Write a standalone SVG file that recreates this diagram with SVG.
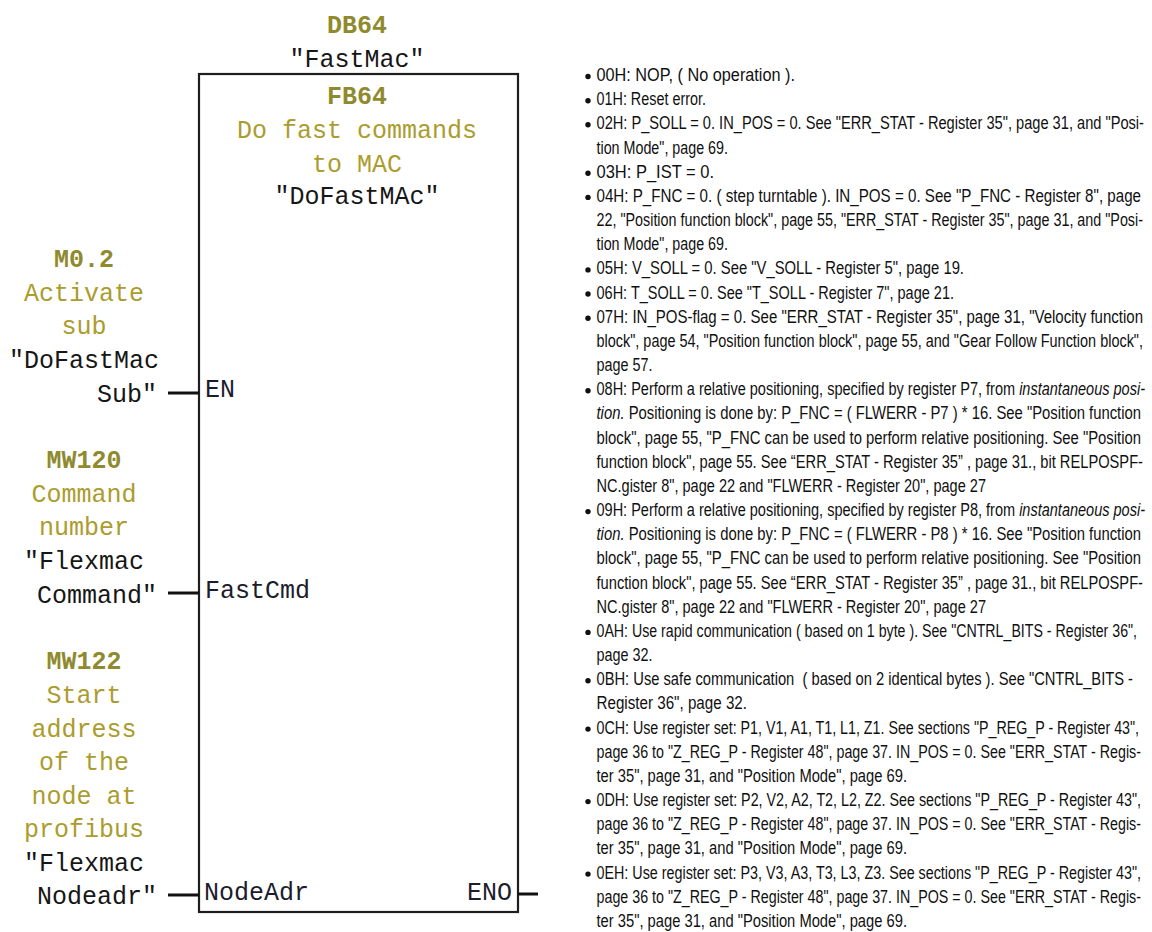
<svg xmlns="http://www.w3.org/2000/svg" width="1152" height="932" viewBox="0 0 1152 932">
  <style>
    .mono { font-family: "Liberation Mono", "Courier New", monospace; font-size: 25px; }
    .addr { font-weight: bold; fill: #8f8a2e; }
    .cmt { fill: #ab9c2e; }
    .sym { fill: #161616; }
    .pin { fill: #1c1c2c; }
    .mid { text-anchor: middle; }
    .end { text-anchor: end; }
    .box { fill: #ffffff; stroke: #1e1e1e; stroke-width: 2.2; }
    .wire { stroke: #111111; stroke-width: 3; fill: none; }
    .t { font-family: "Liberation Sans Narrow", "Liberation Sans", Arial, sans-serif; font-size: 17.5px; fill: #101010; }
    .bul { fill: #101010; }
  </style>

  <!-- instance data block and function block -->
  <g id="fb64">
    <text class="mono addr mid" x="357" y="33">DB64</text>
    <text class="mono sym mid" x="357" y="67">"FastMac"</text>
    <rect class="box" x="199" y="74" width="319" height="838"/>
    <text class="mono addr mid" x="357" y="104">FB64</text>
    <text class="mono cmt mid" x="357" y="138">Do fast commands</text>
    <text class="mono cmt mid" x="357" y="172">to MAC</text>
    <text class="mono sym mid" x="357" y="204">"DoFastMAc"</text>
    <text class="mono pin" x="205" y="397">EN</text>
    <text class="mono pin" x="205" y="598">FastCmd</text>
    <text class="mono pin" x="204" y="900">NodeAdr</text>
    <text class="mono pin end" x="512" y="900">ENO</text>
  </g>

  <!-- actual parameters -->
  <g id="in-en">
    <text class="mono addr mid" x="84" y="267">M0.2</text>
    <text class="mono cmt mid" x="84" y="301">Activate</text>
    <text class="mono cmt mid" x="84" y="334">sub</text>
    <text class="mono sym mid" x="84" y="368">"DoFastMac</text>
    <text class="mono sym end" x="157" y="402">Sub"</text>
  </g>
  <g id="in-fastcmd">
    <text class="mono addr mid" x="84" y="468">MW120</text>
    <text class="mono cmt mid" x="84" y="502">Command</text>
    <text class="mono cmt mid" x="84" y="535">number</text>
    <text class="mono sym mid" x="84" y="569">"Flexmac</text>
    <text class="mono sym end" x="157" y="603">Command"</text>
  </g>
  <g id="in-nodeadr">
    <text class="mono addr mid" x="84" y="669">MW122</text>
    <text class="mono cmt mid" x="84" y="703">Start</text>
    <text class="mono cmt mid" x="84" y="737">address</text>
    <text class="mono cmt mid" x="84" y="770">of the</text>
    <text class="mono cmt mid" x="84" y="804">node at</text>
    <text class="mono cmt mid" x="84" y="837">profibus</text>
    <text class="mono sym mid" x="84" y="871">"Flexmac</text>
    <text class="mono sym end" x="157" y="904">Nodeadr"</text>
  </g>

  <!-- connectors -->
  <g id="wires">
    <line class="wire" x1="168" y1="393" x2="199" y2="393"/>
    <line class="wire" x1="168" y1="593" x2="199" y2="593"/>
    <line class="wire" x1="168" y1="895" x2="199" y2="895"/>
    <line class="wire" x1="518" y1="894" x2="538" y2="894"/>
  </g>

  <!-- command code list -->
  <g id="command-list">
    <g class="bul">
      <circle cx="588" cy="76.5" r="2.7"/>
      <circle cx="588" cy="100.7" r="2.7"/>
      <circle cx="588" cy="124.8" r="2.7"/>
      <circle cx="588" cy="173.2" r="2.7"/>
      <circle cx="588" cy="197.4" r="2.7"/>
      <circle cx="588" cy="269.9" r="2.7"/>
      <circle cx="588" cy="294" r="2.7"/>
      <circle cx="588" cy="318.2" r="2.7"/>
      <circle cx="588" cy="390.7" r="2.7"/>
      <circle cx="588" cy="511.6" r="2.7"/>
      <circle cx="588" cy="632.4" r="2.7"/>
      <circle cx="588" cy="680.8" r="2.7"/>
      <circle cx="588" cy="729.1" r="2.7"/>
      <circle cx="588" cy="801.6" r="2.7"/>
      <circle cx="588" cy="874.1" r="2.7"/>
    </g>
    <g>
      <text class="t" x="596.5" y="81" textLength="198.5" lengthAdjust="spacingAndGlyphs">00H: NOP, ( No operation ).</text>
      <text class="t" x="596.5" y="105.2" textLength="109.5" lengthAdjust="spacingAndGlyphs">01H: Reset error.</text>
      <text class="t" x="596.5" y="129.3" textLength="547.5" lengthAdjust="spacingAndGlyphs">02H: P_SOLL = 0. IN_POS = 0. See "ERR_STAT - Register 35", page 31, and "Posi-</text>
      <text class="t" x="596.5" y="153.5" textLength="131.5" lengthAdjust="spacingAndGlyphs">tion Mode", page 69.</text>
      <text class="t" x="596.5" y="177.7" textLength="117.5" lengthAdjust="spacingAndGlyphs">03H: P_IST = 0.</text>
      <text class="t" x="596.5" y="201.9" textLength="544.5" lengthAdjust="spacingAndGlyphs">04H: P_FNC = 0. ( step turntable ). IN_POS = 0. See "P_FNC - Register 8", page</text>
      <text class="t" x="596.5" y="226" textLength="546.5" lengthAdjust="spacingAndGlyphs">22, "Position function block", page 55, "ERR_STAT - Register 35", page 31, and "Posi-</text>
      <text class="t" x="596.5" y="250.2" textLength="131.5" lengthAdjust="spacingAndGlyphs">tion Mode", page 69.</text>
      <text class="t" x="596.5" y="274.4" textLength="367.5" lengthAdjust="spacingAndGlyphs">05H: V_SOLL = 0. See "V_SOLL - Register 5", page 19.</text>
      <text class="t" x="596.5" y="298.5" textLength="357.5" lengthAdjust="spacingAndGlyphs">06H: T_SOLL = 0. See "T_SOLL - Register 7", page 21.</text>
      <text class="t" x="596.5" y="322.7" textLength="546.5" lengthAdjust="spacingAndGlyphs">07H: IN_POS-flag = 0. See "ERR_STAT - Register 35", page 31, "Velocity function</text>
      <text class="t" x="596.5" y="346.9" textLength="546.5" lengthAdjust="spacingAndGlyphs">block", page 54, "Position function block", page 55, and "Gear Follow Function block",</text>
      <text class="t" x="596.5" y="371" textLength="56" lengthAdjust="spacingAndGlyphs">page 57.</text>
      <text class="t" x="596.5" y="395.2" textLength="548.5" lengthAdjust="spacingAndGlyphs">08H: Perform a relative positioning, specified by register P7, from <tspan font-style="italic">instantaneous posi-</tspan></text>
      <text class="t" x="596.5" y="419.4" textLength="544.5" lengthAdjust="spacingAndGlyphs"><tspan font-style="italic">tion.</tspan> Positioning is done by: P_FNC = ( FLWERR - P7 ) * 16. See "Position function</text>
      <text class="t" x="596.5" y="443.6" textLength="544.5" lengthAdjust="spacingAndGlyphs">block", page 55, "P_FNC can be used to perform relative positioning. See "Position</text>
      <text class="t" x="596.5" y="467.7" textLength="546.5" lengthAdjust="spacingAndGlyphs">function block", page 55. See “ERR_STAT - Register 35” , page 31., bit RELPOSPF-</text>
      <text class="t" x="596.5" y="491.9" textLength="389.5" lengthAdjust="spacingAndGlyphs">NC.gister 8", page 22 and "FLWERR - Register 20", page 27</text>
      <text class="t" x="596.5" y="516.1" textLength="548.5" lengthAdjust="spacingAndGlyphs">09H: Perform a relative positioning, specified by register P8, from <tspan font-style="italic">instantaneous posi-</tspan></text>
      <text class="t" x="596.5" y="540.2" textLength="544.5" lengthAdjust="spacingAndGlyphs"><tspan font-style="italic">tion.</tspan> Positioning is done by: P_FNC = ( FLWERR - P8 ) * 16. See "Position function</text>
      <text class="t" x="596.5" y="564.4" textLength="544.5" lengthAdjust="spacingAndGlyphs">block", page 55, "P_FNC can be used to perform relative positioning. See "Position</text>
      <text class="t" x="596.5" y="588.6" textLength="546.5" lengthAdjust="spacingAndGlyphs">function block", page 55. See “ERR_STAT - Register 35” , page 31., bit RELPOSPF-</text>
      <text class="t" x="596.5" y="612.7" textLength="389.5" lengthAdjust="spacingAndGlyphs">NC.gister 8", page 22 and "FLWERR - Register 20", page 27</text>
      <text class="t" x="596.5" y="636.9" textLength="540.5" lengthAdjust="spacingAndGlyphs">0AH: Use rapid communication ( based on 1 byte ). See "CNTRL_BITS - Register 36",</text>
      <text class="t" x="596.5" y="661.1" textLength="56" lengthAdjust="spacingAndGlyphs">page 32.</text>
      <text class="t" x="596.5" y="685.3" textLength="536.5" lengthAdjust="spacingAndGlyphs" xml:space="preserve">0BH: Use safe communication  ( based on 2 identical bytes ). See "CNTRL_BITS -</text>
      <text class="t" x="596.5" y="709.4" textLength="150.5" lengthAdjust="spacingAndGlyphs">Register 36", page 32.</text>
      <text class="t" x="596.5" y="733.6" textLength="542.5" lengthAdjust="spacingAndGlyphs">0CH: Use register set: P1, V1, A1, T1, L1, Z1. See sections "P_REG_P - Register 43",</text>
      <text class="t" x="596.5" y="757.8" textLength="544.5" lengthAdjust="spacingAndGlyphs">page 36 to "Z_REG_P - Register 48", page 37. IN_POS = 0. See "ERR_STAT - Regis-</text>
      <text class="t" x="596.5" y="781.9" textLength="310.5" lengthAdjust="spacingAndGlyphs">ter 35", page 31, and "Position Mode", page 69.</text>
      <text class="t" x="596.5" y="806.1" textLength="544.5" lengthAdjust="spacingAndGlyphs">0DH: Use register set: P2, V2, A2, T2, L2, Z2. See sections "P_REG_P - Register 43",</text>
      <text class="t" x="596.5" y="830.3" textLength="544.5" lengthAdjust="spacingAndGlyphs">page 36 to "Z_REG_P - Register 48", page 37. IN_POS = 0. See "ERR_STAT - Regis-</text>
      <text class="t" x="596.5" y="854.4" textLength="310.5" lengthAdjust="spacingAndGlyphs">ter 35", page 31, and "Position Mode", page 69.</text>
      <text class="t" x="596.5" y="878.6" textLength="544.5" lengthAdjust="spacingAndGlyphs">0EH: Use register set: P3, V3, A3, T3, L3, Z3. See sections "P_REG_P - Register 43",</text>
      <text class="t" x="596.5" y="902.8" textLength="544.5" lengthAdjust="spacingAndGlyphs">page 36 to "Z_REG_P - Register 48", page 37. IN_POS = 0. See "ERR_STAT - Regis-</text>
      <text class="t" x="596.5" y="926.9" textLength="310.5" lengthAdjust="spacingAndGlyphs">ter 35", page 31, and "Position Mode", page 69.</text>
    </g>
  </g>
</svg>
